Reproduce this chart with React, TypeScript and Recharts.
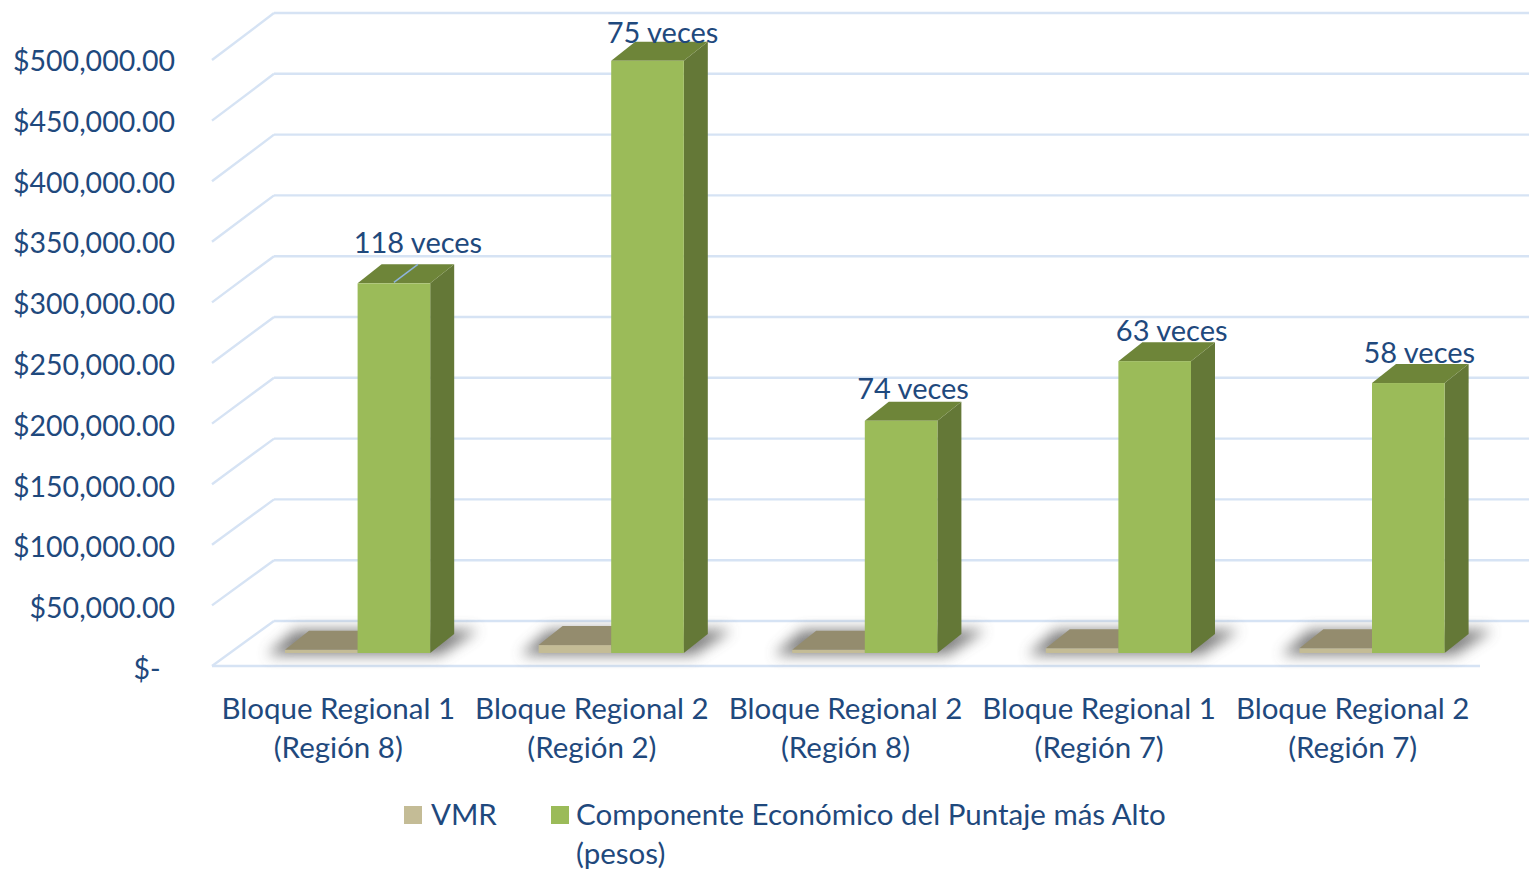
import React from "react";
import { BarChart, Bar, XAxis, YAxis, CartesianGrid, Legend, LabelList } from "recharts";

const categories = [
  "Bloque Regional 1\n(Región 8)",
  "Bloque Regional 2\n(Región 2)",
  "Bloque Regional 2\n(Región 8)",
  "Bloque Regional 1\n(Región 7)",
  "Bloque Regional 2\n(Región 7)",
];
const vmr = [2576, 6493, 2581, 3810, 3827];
const componente = [304000, 487000, 191000, 240000, 222000];
const veces = ["118 veces", "75 veces", "74 veces", "63 veces", "58 veces"];
const yTicks = [0, 50000, 100000, 150000, 200000, 250000, 300000, 350000, 400000, 450000, 500000];
const VMR_NAME = "VMR";
const COMP_NAME = "Componente Económico del Puntaje más Alto";
const COMP_NAME_2 = "(pesos)";

const data = categories.map((c, i) => ({ cat: c, vmr: vmr[i], comp: componente[i], veces: veces[i] }));

const FONT = "Lato, 'Noto Sans', sans-serif";
const FS = 29.5;
const TEXT = "#1f497d";
const GRID = "#d6e3f4";
const DX = 24;
const DY = 19;
// the labels sit at slightly different spots above each column
const labelShift = [[24, -42], [15, -29], [12, -33], [17, -32], [11, -32]];

const fmt = (v: number) =>
  v === 0 ? "$-" : "$" + v.toLocaleString("en-US", { minimumFractionDigits: 2, maximumFractionDigits: 2 });

const GridLine = (p: any) => {
  const { x1, x2, y1, index } = p;
  const frontY = 666 - (653 - y1) * (606 / 608);
  const isFloor = Math.abs(y1 - 653) < 1;
  return (
    <g key={`g-${index}`}>
      <line x1={x1 - 19} y1={frontY} x2={x1 + 43} y2={y1 - 32} stroke={GRID} strokeWidth={2.4} />
      <line x1={x1 + 43} y1={y1 - 32} x2={x2 + 44} y2={y1 - 32} stroke={GRID} strokeWidth={2.4} />
      {isFloor && <line x1={x1 - 19} y1={frontY} x2={x2 - 19} y2={frontY} stroke={GRID} strokeWidth={2.4} />}
    </g>
  );
};

const VmrShape = (p: any) => {
  const { x, y, width: w, height: h, index } = p;
  const base = y + h;
  const pts = [
    [x - 18, base + 2],
    [x + 2 * w + 10, base + 2],
    [x + 2 * w + DX + 24, base - DY - 4],
    [x + DX - 14, base - DY - 4],
  ]
    .map((q) => q.join(","))
    .join(" ");
  const fid = `floorBlur${index}`;
  return (
    <g>
      <defs>
        <filter id={fid} x="-20%" y="-150%" width="140%" height="400%">
          <feGaussianBlur stdDeviation="7" />
        </filter>
      </defs>
      <polygon points={pts} fill="#555555" opacity={0.75} filter={`url(#${fid})`} />
      <polygon
        points={`${x},${y} ${x + w},${y} ${x + w + DX},${y - DY} ${x + DX},${y - DY}`}
        fill="#948c6e"
      />
      <rect x={x} y={y} width={w} height={h} fill="#c4bc96" />
    </g>
  );
};

const CompShape = (p: any) => {
  const { x, y, width: w, height: h } = p;
  const base = y + h;
  return (
    <g>
      <polygon
        points={`${x + w},${y} ${x + w + DX},${y - DY} ${x + w + DX},${base - DY} ${x + w},${base}`}
        fill="#647837"
      />
      <polygon
        points={`${x},${y} ${x + w},${y} ${x + w + DX},${y - DY} ${x + DX},${y - DY}`}
        fill="#6e8539"
      />
      <rect x={x} y={y} width={w} height={h} fill="#9bbb59" />
    </g>
  );
};

const VecesLabel = (p: any) => {
  const { x, y, width: w, index, value } = p;
  const [sx, sy] = labelShift[index];
  const cx = x + w / 2;
  return (
    <g>
      {index === 0 && (
        <line x1={cx} y1={y - 1} x2={cx + DX} y2={y - DY} stroke="#8fb4dc" strokeWidth={1.5} />
      )}
      <text x={cx + sx} y={y + sy} textAnchor="middle" dominantBaseline="central" fontFamily={FONT} fontSize={FS - 0.5} fill={TEXT}>
        {value}
      </text>
    </g>
  );
};

const YTick = (p: any) => {
  const { y, payload } = p;
  const v = payload.value;
  return (
    <text x={v === 0 ? 160.5 : 175} y={y + 15} textAnchor="end" dominantBaseline="central" fontFamily={FONT} fontSize={FS - 1} fill={TEXT}>
      {fmt(v)}
    </text>
  );
};

const XTick = (p: any) => {
  const { x, payload } = p;
  const [a, b] = String(payload.value).split("\n");
  return (
    <g fontFamily={FONT} fontSize={FS} fill={TEXT}>
      <text x={x - 19.5} y={707} textAnchor="middle" dominantBaseline="central">{a}</text>
      <text x={x - 19.5} y={746} textAnchor="middle" dominantBaseline="central">{b}</text>
    </g>
  );
};

const LegendBox = () => (
  <svg width={1529} height={79} style={{ display: "block" }}>
    <g fontFamily={FONT} fontSize={FS} fill={TEXT}>
      <rect x={404} y={16} width={18} height={18} fill="#c4bc96" />
      <text x={431} y={23} dominantBaseline="central">{VMR_NAME}</text>
      <rect x={551} y={16} width={18} height={18} fill="#9bbb59" />
      <text x={576} y={23} dominantBaseline="central">{COMP_NAME}</text>
      <text x={576} y={62} dominantBaseline="central">{COMP_NAME_2}</text>
    </g>
  </svg>
);

export default function App() {
  return (
    <div style={{ position: "absolute", left: 0, top: 0, width: 1529, height: 869, overflow: "hidden", background: "#fff" }}>
      <BarChart
        width={1529}
        height={869}
        data={data}
        margin={{ top: 45, right: 30, bottom: 0, left: 0 }}
        barSize={72.6}
        barGap={0}
      >
        <CartesianGrid vertical={false} horizontal={GridLine as any} />
        <XAxis dataKey="cat" interval={0} height={137} axisLine={false} tickLine={false} tick={XTick as any} />
        <YAxis width={231} domain={[0, 500000]} ticks={yTicks} interval={0} axisLine={false} tickLine={false} tick={YTick as any} />
        <Legend
          height={79}
          verticalAlign="bottom"
          content={LegendBox as any}
          wrapperStyle={{ left: 0, top: 790, bottom: "auto", width: 1529, height: 79 }}
        />
        <Bar dataKey="vmr" name={VMR_NAME} shape={VmrShape as any} isAnimationActive={false} />
        <Bar dataKey="comp" name={COMP_NAME} shape={CompShape as any} isAnimationActive={false}>
          <LabelList dataKey="veces" content={VecesLabel as any} />
        </Bar>
      </BarChart>
    </div>
  );
}
